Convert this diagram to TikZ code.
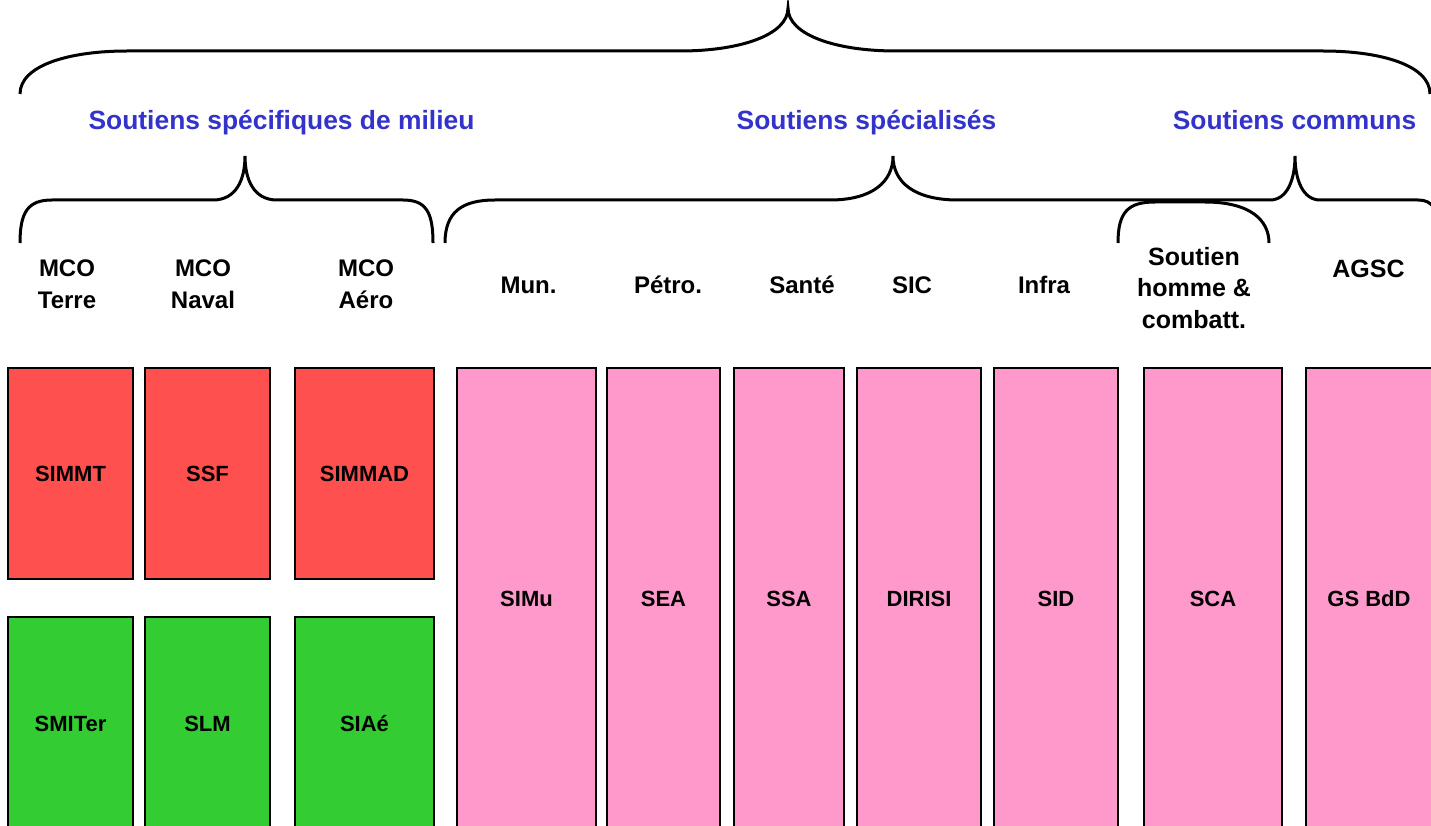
\documentclass[tikz,border=0pt]{standalone}
\usepackage{fontspec}
\setmainfont{Liberation Sans}
\definecolor{cred}{HTML}{FF5050}
\definecolor{cgreen}{HTML}{33CC33}
\definecolor{cpink}{HTML}{FF99CC}
\definecolor{cblue}{HTML}{3333CC}
\begin{document}
\begin{tikzpicture}[x=1pt,y=-1pt,
  brace/.style={draw=black, line width=3pt},
  box/.style={draw=black, line width=1.3pt, inner sep=0pt, font=\fontsize{22}{26}\selectfont\bfseries},
  rbox/.style={box, fill=cred},
  gbox/.style={box, fill=cgreen},
  pbox/.style={box, fill=cpink},
  hdr/.style={font=\fontsize{24}{32}\selectfont\bfseries, align=center, anchor=base, inner sep=0pt},
  hdrb/.style={font=\fontsize{25}{31.5}\selectfont\bfseries, align=center, anchor=base, inner sep=0pt},
  grp/.style={font=\fontsize{26.4}{30}\selectfont\bfseries, text=cblue, anchor=base, inner sep=0pt}]
\useasboundingbox (0,0) rectangle (1431,826);
\clip (0,0) rectangle (1431,826);

% braces
\draw[brace] (20,94) .. controls (20,65) and (70,51) .. (127,51) -- (680,51)
  .. controls (740,51) and (788,35) .. (788,8)
  .. controls (788,35) and (836,51) .. (896,51) -- (1323,51)
  .. controls (1380,51) and (1430,65) .. (1430,94);
\draw[brace] (20,243) .. controls (20,212) and (28,200) .. (52,200) -- (213,200)
  .. controls (236,200) and (245,180) .. (245,156)
  .. controls (245,180) and (254,200) .. (277,200) -- (403,200)
  .. controls (426,200) and (433,212) .. (433,243);
\draw[brace] (445,243) .. controls (445,212) and (462,200) .. (495,200) -- (830,200)
  .. controls (872,200) and (893,182) .. (893,156)
  .. controls (893,182) and (914,200) .. (958,200) -- (1270,200)
  .. controls (1287,200) and (1295,180) .. (1295,156)
  .. controls (1295,180) and (1303,200) .. (1320,200) -- (1418,200)
  .. controls (1432,200) and (1440,208) .. (1442,243);
\draw[brace] (1118,243) .. controls (1118,212) and (1128,202) .. (1155,202) -- (1205,202)
  .. controls (1250,202) and (1269,220) .. (1269,243);

% group labels
\node[grp] (g1) at (281.5,129.5) {Soutiens spécifiques de milieu};
\node[grp] (g2) at (866.5,129.5) {Soutiens spécialisés};
\node[grp] (g3) at (1294.5,129.5) {Soutiens communs};

% headers (multi-line: anchor at baseline of last line)
\node[hdr] (h1) at (67,308) {MCO\\Terre};
\node[hdr] (h2) at (203,308) {MCO\\Naval};
\node[hdr] (h3) at (366,308) {MCO\\Aéro};
\node[hdr] (h4) at (528.5,293) {Mun.};
\node[hdr] (h5) at (668,293) {Pétro.};
\node[hdr] (h6) at (802,293) {Santé};
\node[hdr] (h7) at (912,293) {SIC};
\node[hdr] (h8) at (1044,293) {Infra};
\node[hdrb] (h9) at (1194,328) {Soutien\\homme \&\\combatt.};
\node[hdrb] (h10) at (1368.5,277) {AGSC};

% red boxes
\node[rbox, minimum width=125, minimum height=211] (simmt) at (70.5,473.5) {SIMMT};
\node[rbox, minimum width=125, minimum height=211] (ssf) at (207.5,473.5) {SSF};
\node[rbox, minimum width=139, minimum height=211] (simmad) at (364.5,473.5) {SIMMAD};
% green boxes
\node[gbox, minimum width=125, minimum height=213] (smiter) at (70.5,723.5) {SMITer};
\node[gbox, minimum width=125, minimum height=213] (slm) at (207.5,723.5) {SLM};
\node[gbox, minimum width=139, minimum height=213] (siae) at (364.5,723.5) {SIAé};
% pink boxes
\node[pbox, minimum width=139, minimum height=462] (simu) at (526.5,599) {SIMu};
\node[pbox, minimum width=113, minimum height=462] (sea) at (663.5,599) {SEA};
\node[pbox, minimum width=110, minimum height=462] (ssa) at (789,599) {SSA};
\node[pbox, minimum width=124, minimum height=462] (dirisi) at (919,599) {DIRISI};
\node[pbox, minimum width=124, minimum height=462] (sid) at (1056,599) {SID};
\node[pbox, minimum width=138, minimum height=462] (sca) at (1213,599) {SCA};
\node[pbox, minimum width=126, minimum height=462] (gsbdd) at (1369,599) {GS BdD};
\end{tikzpicture}
\end{document}
